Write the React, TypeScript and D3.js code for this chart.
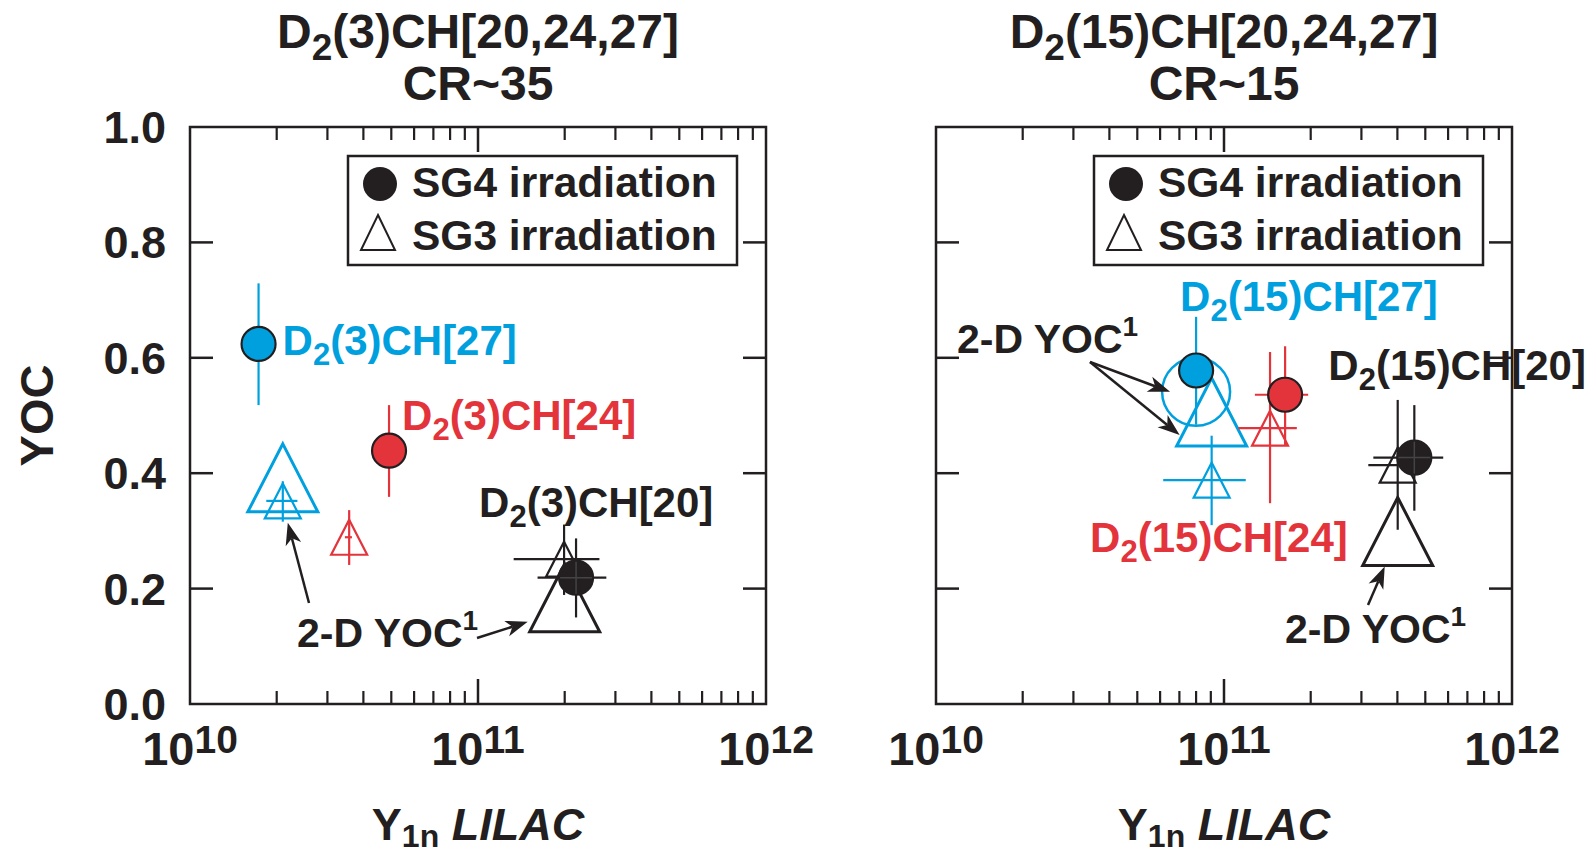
import React from "react";
import * as d3 from "d3";

// colours used in the figure
const BLUE = "#00a0df";
const RED = "#e3343c";
const INK = "#231f20";

// panels: shot number in the title, convergence ratio
const panelShots = ["3", "15"];
const panelCR = ["CR~35", "CR~15"];

// campaigns, same order in every series array below
const campaigns = ["27", "24", "20"];
const campaignColors = [BLUE, RED, INK];

// SG4 irradiation (filled circles), [panel][campaign]
const sg4Y1n = [[1.73e10, 4.91e10, 2.19e11], [8.0e10, 1.63e11, 4.58e11]];
const sg4YOC = [[0.624, 0.439, 0.219], [0.578, 0.536, 0.427]];
const sg4YOCLo = [[0.518, 0.359, 0.15], [0.484, 0.449, 0.335]];
const sg4YOCHi = [[0.729, 0.518, 0.287], [0.671, 0.62, 0.518]];
const sg4Y1nLo = [[null, null, 1.61e11], [null, 1.28e11, 3.3e11]];
const sg4Y1nHi = [[null, null, 2.79e11], [null, 1.96e11, 5.77e11]];

// SG3 irradiation (open triangles), [panel][campaign]
const sg3Y1n = [[2.1e10, 3.57e10, 1.99e11], [9.06e10, 1.445e11, 4.01e11]];
const sg3YOC = [[0.352, 0.289, 0.251], [0.388, 0.478, 0.414]];
const sg3YOCLo = [[0.316, 0.241, 0.189], [0.31, 0.348, 0.302]];
const sg3YOCHi = [[0.386, 0.336, 0.311], [0.465, 0.61, 0.527]];
const sg3Y1nLo = [[1.84e10, 3.45e10, 1.33e11], [6.15e10, 1.12e11, 3.17e11]];
const sg3Y1nHi = [[2.36e10, 3.65e10, 2.64e11], [1.19e11, 1.79e11, 4.67e11]];

// 2-D simulated YOC markers
const yoc2dPanel = [0, 0, 1, 1, 1];
const yoc2dCampaign = [0, 2, 0, 0, 2];
const yoc2dShape = ["triangle", "triangle", "circle", "triangle", "triangle"];
const yoc2dY1n = [2.1e10, 2.0e11, 8.0e10, 9.06e10, 4.01e11];
const yoc2dYOC = [0.392, 0.184, 0.541, 0.506, 0.299];

// axes
const yTicks = [0, 0.2, 0.4, 0.6, 0.8, 1.0];
const xDecades = [10, 11, 12];

// layout
const W = 1589;
const H = 854;
const panelLeft = [190, 936];
const plotW = 576;
const plotTop = 127;
const plotBottom = 704;
const FONT = "'Liberation Sans', Arial, Helvetica, sans-serif";

// campaign label offsets from the SG4 circle, [panel][campaign]
const labelOffsets = [
  [[24, 11], [13, -21], [-97, -61]],
  [[-16, -59], [-195, 157], [-86, -78]],
];

// "2-D YOC" notes: text position inside the panel, arrows from tail to a 2-D marker
const yocNotes = [
  { panel: 0, at: [107, 647], arrows: [{ tail: [119, 603], target: 0, tip: [5, 45] }, { tail: [287, 638], target: 1, tip: [-37, 24] }] },
  { panel: 1, at: [21, 353], arrows: [{ tail: [154, 362], target: 2, tip: [-26, 0] }, { tail: [154, 362], target: 3, tip: [-32, 23] }] },
  { panel: 1, at: [349, 643], arrows: [{ tail: [432, 605], target: 4, tip: [-13, 35] }] },
];

const triPath = (cx: number, cy: number, w: number, h: number) =>
  `M${cx},${cy - h / 2}L${cx + w / 2},${cy + h / 2}L${cx - w / 2},${cy + h / 2}Z`;

function Arrow({ x1, y1, x2, y2 }: any) {
  const a = Math.atan2(y2 - y1, x2 - x1);
  const len = 22, half = 8, notch = 16;
  const bx = x2 - len * Math.cos(a), by = y2 - len * Math.sin(a);
  const nx = x2 - notch * Math.cos(a), ny = y2 - notch * Math.sin(a);
  const px = -Math.sin(a) * half, py = Math.cos(a) * half;
  return (
    <g>
      <line x1={x1} y1={y1} x2={nx} y2={ny} stroke={INK} strokeWidth={2.5} />
      <path d={`M${x2},${y2}L${bx + px},${by + py}L${nx},${ny}L${bx - px},${by - py}Z`} fill={INK} />
    </g>
  );
}

function ChemLabel({ x, y, shot, tail, size, sub, subDy, fill, anchor }: any) {
  return (
    <text x={x} y={y} fontSize={size} fill={fill} textAnchor={anchor || "start"}>
      <tspan>D</tspan>
      <tspan fontSize={sub} dy={subDy}>2</tspan>
      <tspan dy={-subDy}>{`(${shot})CH[${tail}]`}</tspan>
    </text>
  );
}

function Panel({ p }: { p: number }) {
  const x0 = panelLeft[p];
  const x = d3.scaleLog().domain([1e10, 1e12]).range([x0, x0 + plotW]);
  const y = d3.scaleLinear().domain([0, 1]).range([plotBottom, plotTop]);
  const cx = x0 + plotW / 2;
  const minor: number[] = [];
  [10, 11].forEach((d) => d3.range(2, 10).forEach((k) => minor.push(k * Math.pow(10, d))));

  const marks2d = yoc2dY1n.map((v, i) => ({ i, v, yy: yoc2dYOC[i] })).filter((m) => yoc2dPanel[m.i] === p);
  const legX = x0 + plotW - 29 - 389;

  return (
    <g>
      {/* titles */}
      <ChemLabel x={cx} y={48} shot={panelShots[p]} tail={[...campaigns].reverse().join(",")} size={48} sub={37} subDy={12} fill={INK} anchor="middle" />
      <text x={cx} y={100} fontSize={48} fill={INK} textAnchor="middle">{panelCR[p]}</text>

      {/* frame */}
      <rect x={x0} y={plotTop} width={plotW} height={plotBottom - plotTop} fill="none" stroke={INK} strokeWidth={2.5} />
      {yTicks.slice(1, -1).map((t) => (
        <g key={t}>
          <line x1={x0} x2={x0 + 23} y1={y(t)} y2={y(t)} stroke={INK} strokeWidth={2.5} />
          <line x1={x0 + plotW - 23} x2={x0 + plotW} y1={y(t)} y2={y(t)} stroke={INK} strokeWidth={2.5} />
        </g>
      ))}
      {minor.map((t) => (
        <g key={t}>
          <line x1={x(t)} x2={x(t)} y1={plotBottom} y2={plotBottom - 13} stroke={INK} strokeWidth={2.2} />
          <line x1={x(t)} x2={x(t)} y1={plotTop} y2={plotTop + 13} stroke={INK} strokeWidth={2.2} />
        </g>
      ))}
      <line x1={x(1e11)} x2={x(1e11)} y1={plotBottom} y2={plotBottom - 25} stroke={INK} strokeWidth={2.5} />
      <line x1={x(1e11)} x2={x(1e11)} y1={plotTop} y2={plotTop + 25} stroke={INK} strokeWidth={2.5} />

      {/* x tick labels */}
      {xDecades.map((d) => (
        <text key={d} x={x(Math.pow(10, d))} y={765} fontSize={47} fill={INK} textAnchor="middle">
          <tspan>10</tspan>
          <tspan fontSize={39} dy={-12}>{d}</tspan>
        </text>
      ))}
      {/* x axis title */}
      <text x={cx} y={840} fontSize={45} fill={INK} textAnchor="middle">
        <tspan>Y</tspan>
        <tspan fontSize={32} dy={7}>1n</tspan>
        <tspan dy={-7}> </tspan>
        <tspan fontStyle="italic">LILAC</tspan>
      </text>

      {/* y tick labels, left panel only */}
      {p === 0 &&
        yTicks.map((t) => (
          <text key={t} x={x0 - 24} y={y(t) + 16} fontSize={45} fill={INK} textAnchor="end">
            {d3.format(".1f")(t)}
          </text>
        ))}
      {p === 0 && (
        <text transform={`translate(53,${(plotTop + plotBottom) / 2}) rotate(-90)`} fontSize={47} fill={INK} textAnchor="middle">
          YOC
        </text>
      )}

      {/* legend */}
      <rect x={legX} y={156} width={389} height={109} fill="#fff" stroke={INK} strokeWidth={2.5} />
      <circle cx={legX + 32} cy={184} r={17} fill={INK} />
      <path d={triPath(legX + 30, 232.5, 34, 35)} fill="none" stroke={INK} strokeWidth={2} />
      <text x={legX + 64} y={197} fontSize={42.5} fill={INK}>SG4 irradiation</text>
      <text x={legX + 64} y={250} fontSize={42.5} fill={INK}>SG3 irradiation</text>

      {/* 2-D YOC markers */}
      {marks2d.map((m) => {
        const c = campaignColors[yoc2dCampaign[m.i]];
        return yoc2dShape[m.i] === "circle" ? (
          <circle key={m.i} cx={x(m.v)} cy={y(m.yy)} r={34} fill="none" stroke={c} strokeWidth={2.5} />
        ) : (
          <path key={m.i} d={triPath(x(m.v), y(m.yy), 70, 68)} fill="none" stroke={c} strokeWidth={3} />
        );
      })}

      {/* SG3 triangles with error bars */}
      {campaigns.map((_, j) => {
        const px = x(sg3Y1n[p][j]), py = y(sg3YOC[p][j]), c = campaignColors[j];
        return (
          <g key={j} stroke={c} strokeWidth={2.2} fill="none">
            <line x1={px} x2={px} y1={y(sg3YOCLo[p][j])} y2={y(sg3YOCHi[p][j])} />
            <line x1={x(sg3Y1nLo[p][j])} x2={x(sg3Y1nHi[p][j])} y1={py} y2={py} />
            <path d={triPath(px, py, 36, 35)} />
          </g>
        );
      })}

      {/* SG4 circles with error bars */}
      {campaigns.map((_, j) => {
        const px = x(sg4Y1n[p][j]), py = y(sg4YOC[p][j]), c = campaignColors[j];
        const lo = sg4Y1nLo[p][j], hi = sg4Y1nHi[p][j];
        return (
          <g key={j}>
            <line x1={px} x2={px} y1={y(sg4YOCLo[p][j])} y2={y(sg4YOCHi[p][j])} stroke={c} strokeWidth={2.2} />
            {lo != null && <line x1={x(lo)} x2={x(hi as number)} y1={py} y2={py} stroke={c} strokeWidth={2.2} />}
            <circle cx={px} cy={py} r={17} fill={c} stroke={INK} strokeWidth={2.2} />
            {j === 2 && (
              <g stroke="#444" strokeWidth={1.5}>
                <line x1={px} x2={px} y1={py - 16} y2={py + 16} />
                {lo != null && <line x1={px - 16} x2={px + 16} y1={py} y2={py} />}
              </g>
            )}
          </g>
        );
      })}

      {/* campaign labels */}
      {campaigns.map((cmp, j) => (
        <ChemLabel
          key={cmp}
          x={x(sg4Y1n[p][j]) + labelOffsets[p][j][0]}
          y={y(sg4YOC[p][j]) + labelOffsets[p][j][1]}
          shot={panelShots[p]}
          tail={cmp}
          size={42}
          sub={31}
          subDy={10}
          fill={campaignColors[j]}
        />
      ))}

      {/* 2-D YOC notes */}
      {yocNotes
        .filter((n) => n.panel === p)
        .map((n, k) => (
          <g key={k}>
            <text x={x0 + n.at[0]} y={n.at[1]} fontSize={41} fill={INK}>
              <tspan>2-D YOC</tspan>
              <tspan fontSize={28} dy={-17}>1</tspan>
            </text>
            {n.arrows.map((a, q) => (
              <Arrow
                key={q}
                x1={x0 + a.tail[0]}
                y1={a.tail[1]}
                x2={x(yoc2dY1n[a.target]) + a.tip[0]}
                y2={y(yoc2dYOC[a.target]) + a.tip[1]}
              />
            ))}
          </g>
        ))}
    </g>
  );
}

export default function App() {
  return (
    <svg
      width={W}
      height={H}
      viewBox={`0 0 ${W} ${H}`}
      style={{ position: "absolute", left: 0, top: 0, display: "block", background: "#fff" }}
      fontFamily={FONT}
      fontWeight="bold"
    >
      <rect width={W} height={H} fill="#fff" />
      {panelShots.map((_, p) => (
        <Panel key={p} p={p} />
      ))}
    </svg>
  );
}
